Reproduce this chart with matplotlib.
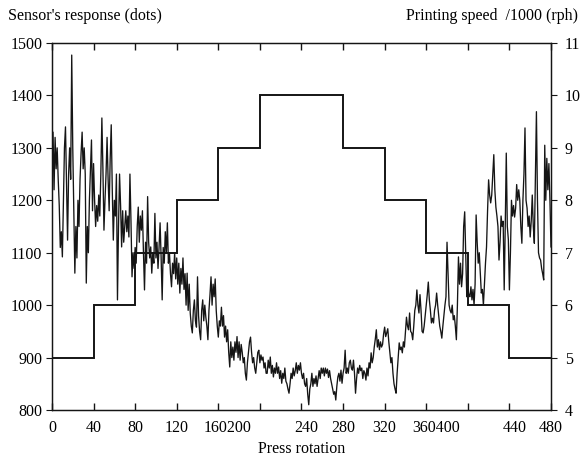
import numpy as np
import matplotlib
matplotlib.use("Agg")
import matplotlib.pyplot as plt

plt.rcParams["font.family"] = ["Liberation Serif", "DejaVu Serif"]

# sensor's response (dots), one reading per press rotation 0..480
response = [
    1250, 1330, 1220, 1320, 1260, 1300, 1240, 1190, 1110, 1140,
    1092, 1200, 1300, 1340, 1230, 1124, 1250, 1300, 1240, 1477,
    1300, 1180, 1061, 1150, 1090, 1200, 1150, 1240, 1290, 1330,
    1260, 1300, 1250, 1042, 1150, 1100, 1200, 1260, 1315, 1180,
    1270, 1200, 1150, 1190, 1160, 1210, 1170, 1250, 1357, 1260,
    1143, 1200, 1250, 1320, 1240, 1180, 1280, 1344, 1220, 1124,
    1200, 1170, 1250, 1010, 1150, 1250, 1190, 1111, 1180, 1120,
    1150, 1180, 1140, 1170, 1130, 1250, 1160, 1054, 1100, 1070,
    1110, 1080, 1150, 1187, 1120, 1170, 1143, 1180, 1100, 1029,
    1120, 1080, 1207, 1120, 1090, 1111, 1061, 1100, 1080, 1175,
    1090, 1120, 1070, 1110, 1157, 1090, 1010, 1110, 1080, 1140,
    1100, 1157, 1080, 1100, 1060, 1035, 1080, 1060, 1100, 1050,
    1090, 1040, 1080, 1023, 1070, 1040, 1090, 1030, 1060, 1000,
    1061, 990, 1040, 985, 960, 947, 990, 1010, 970, 958,
    1054, 980, 950, 934, 990, 1010, 970, 1000, 977, 960,
    934, 990, 1020, 1054, 1000, 1040, 1016, 1050, 990, 960,
    939, 970, 960, 996, 960, 980, 939, 960, 930, 953,
    910, 882, 930, 900, 920, 895, 930, 910, 940, 900,
    930, 895, 925, 910, 890, 900, 870, 857, 890, 910,
    930, 939, 910, 890, 900, 880, 870, 890, 910, 914,
    890, 905, 895, 901, 880, 890, 870, 870, 895, 880,
    901, 870, 885, 863, 880, 870, 890, 870, 882, 860,
    875, 851, 870, 860, 880, 855, 850, 840, 832, 850,
    870, 860, 880, 865, 875, 890, 870, 885, 876, 890,
    870, 860, 870, 850, 845, 860, 830, 810, 840, 850,
    870, 845, 860, 850, 865, 845, 860, 875, 860, 880,
    870, 880, 865, 880, 870, 878, 862, 875, 860, 850,
    840, 830, 835, 819, 845, 863, 870, 855, 876, 851,
    870, 880, 914, 870, 880, 870, 890, 895, 880, 876,
    895, 870, 832, 860, 880, 870, 885, 875, 880, 860,
    875, 870, 857, 880, 865, 890, 880, 909, 890, 900,
    920, 935, 953, 920, 934, 915, 930, 920, 925, 945,
    958, 940, 947, 955, 930, 910, 890, 900, 870, 850,
    840, 832, 870, 900, 928, 915, 920, 909, 930, 920,
    950, 977, 960, 953, 985, 950, 947, 934, 960, 990,
    1000, 1029, 1000, 985, 1020, 990, 950, 947, 960, 980,
    1000, 1020, 1044, 1010, 990, 966, 975, 966, 990, 1000,
    1023, 1000, 980, 960, 950, 937, 960, 980, 1000, 1016,
    1120, 1060, 1000, 990, 985, 1000, 972, 980, 960, 934,
    1000, 1092, 1040, 1080, 1035, 1060, 1150, 1178, 1100, 1016,
    1030, 1020, 1016, 1035, 1010, 1030, 1000, 1040, 1172, 1120,
    1080, 1100, 1060, 1023, 1030, 1000, 1040, 1080, 1111, 1180,
    1239, 1210, 1195, 1210, 1250, 1287, 1220, 1187, 1170, 1150,
    1086, 1120, 1170, 1150, 1160, 1029, 1150, 1290, 1150, 1125,
    1029, 1100, 1200, 1170, 1190, 1168, 1185, 1230, 1200, 1220,
    1200, 1150, 1118, 1200, 1250, 1338, 1200, 1185, 1150, 1170,
    1130, 1160, 1210, 1150, 1118, 1250, 1369, 1200, 1100, 1090,
    1086, 1070, 1060, 1048, 1305, 1200, 1280, 1220, 1270, 1200,
    1111,
]
rotation = np.arange(len(response))

# printing speed / 1000 (rph), stepwise
speed_edges = [0, 40, 80, 120, 160, 200, 240, 280, 320, 360, 400, 440, 480]
speed = [5, 6, 7, 8, 9, 10, 10, 9, 8, 7, 6, 5]

x_ticks = [0, 40, 80, 120, 160, 200, 240, 280, 320, 360, 400, 440, 480]
x_label_pos = [0, 40, 80, 120, 169, 245, 280, 320, 370, 445, 480]
x_labels = ["0", "40", "80", "120", "160200", "240", "280", "320", "360400", "440", "480"]

fig = plt.figure(figsize=(5.82, 4.59), dpi=100)
ax = fig.add_axes([0.0893, 0.1068, 0.8574, 0.7995])

ink = "#151515"
ax.plot(rotation, response, color=ink, lw=0.95)
ax.set_xlim(0, 480)
ax.set_ylim(800, 1500)
ax.set_yticks(range(800, 1501, 100))

ax2 = ax.twinx()
ax2.stairs(speed, speed_edges, color=ink, lw=1.4, baseline=None)
ax2.set_ylim(4, 11)
ax2.set_yticks(range(4, 12))
ax2.tick_params(axis="y", direction="out", length=4, width=0.8, color=ink,
                labelsize=11.5, pad=6)

# labels (major, no mark) where the print put them; marks (minor) on the 40-step grid
ax.xaxis.remove_overlapping_locs = False
ax.set_xticks(x_label_pos, x_labels)
ax.set_xticks(x_ticks, minor=True)
ax.tick_params(axis="x", which="major", length=0, labelsize=11.5, pad=7)
ax.tick_params(axis="x", which="minor", direction="in", length=5, width=1.0,
               color=ink, bottom=True, top=True)
ax.tick_params(axis="y", direction="out", length=4, width=0.8, color=ink,
               labelsize=11.5, pad=3)

for a in (ax, ax2):
    for s in a.spines.values():
        s.set_color(ink)
        s.set_linewidth(0.9)

ax.set_xlabel("Press rotation", fontsize=11.5, labelpad=4)
fig.text(0.014, 0.966, "Sensor's response (dots)", fontsize=11.5, va="center", ha="left")
fig.text(0.993, 0.966, "Printing speed  /1000 (rph)", fontsize=11.5, va="center", ha="right")

fig.savefig("out.png", dpi=100)
